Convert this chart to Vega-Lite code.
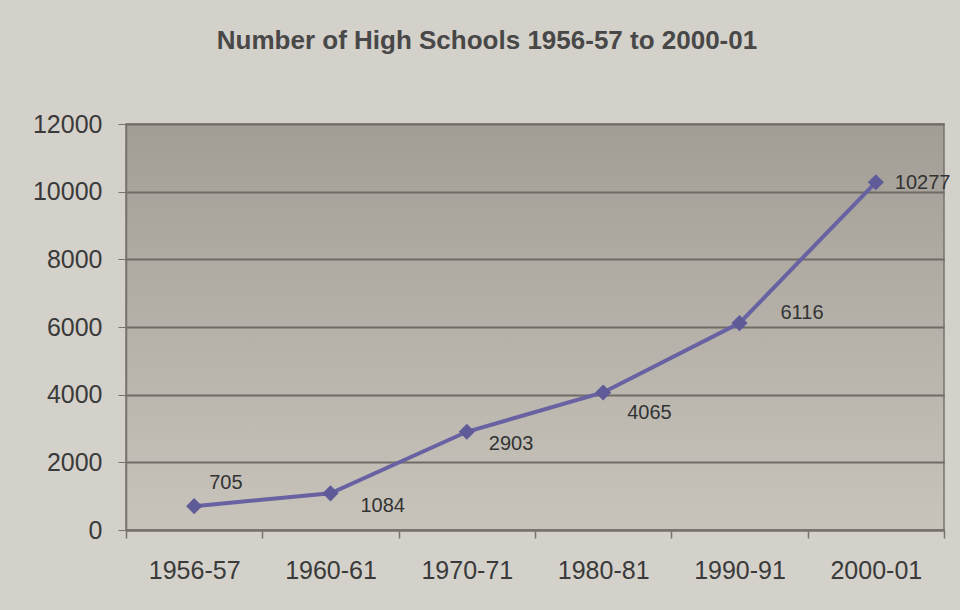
{
  "$schema": "https://vega.github.io/schema/vega-lite/v6.json",
  "width": 818,
  "height": 406,
  "autosize": {"type": "none"},
  "padding": {"left": 126, "top": 124, "right": 16, "bottom": 80},
  "background": "#d4d1ca",
  "title": {
    "text": "Number of High Schools 1956-57 to 2000-01",
    "font": "Liberation Sans",
    "fontSize": 26,
    "fontWeight": "bold",
    "color": "#484848",
    "anchor": "middle",
    "dx": -48,
    "offset": 58
  },
  "config": {
    "view": {
      "fill": {"gradient": "linear", "x1": 0, "y1": 0, "x2": 0, "y2": 1,
        "stops": [{"offset": 0, "color": "#a29e96"}, {"offset": 1, "color": "#c8c4bb"}]},
      "stroke": "#77736d",
      "strokeWidth": 1.5
    },
    "axis": {
      "labelFont": "Liberation Sans",
      "labelColor": "#3a3a3a",
      "domainColor": "#77736d",
      "tickColor": "#77736d",
      "title": null
    },
    "text": {"font": "Liberation Sans", "fontSize": 20, "color": "#333333", "align": "left", "baseline": "middle"}
  },
  "data": {
    "values": [
      {"year": "1956-57", "schools": 705},
      {"year": "1960-61", "schools": 1084},
      {"year": "1970-71", "schools": 2903},
      {"year": "1980-81", "schools": 4065},
      {"year": "1990-91", "schools": 6116},
      {"year": "2000-01", "schools": 10277}
    ]
  },
  "encoding": {
    "x": {
      "field": "year", "type": "ordinal", "sort": null,
      "scale": {"type": "band", "paddingInner": 0, "paddingOuter": 0},
      "axis": {"labelAngle": 0, "labelFontSize": 25, "labelPadding": 20, "tickBand": "extent", "tickSize": 8, "tickWidth": 1.5, "domainWidth": 2}
    },
    "y": {
      "field": "schools", "type": "quantitative",
      "scale": {"domain": [0, 12000]},
      "axis": {"values": [0, 2000, 4000, 6000, 8000, 10000, 12000], "format": "d", "labelFontSize": 25, "labelPadding": 16, "tickSize": 8, "gridColor": "#6f6b66", "gridWidth": 1.8, "grid": true, "domainWidth": 1.5}
    }
  },
  "layer": [
    {"mark": {"type": "line", "color": "#6862a2", "strokeWidth": 4}},
    {"mark": {"type": "point", "shape": "diamond", "filled": true, "size": 260, "color": "#5f5a98", "opacity": 1}},
    {
      "transform": [{"filter": "datum.schools == 705"}],
      "mark": {"type": "text", "dx": 15, "dy": -23},
      "encoding": {"text": {"field": "schools"}}
    },
    {
      "transform": [{"filter": "datum.schools == 1084"}],
      "mark": {"type": "text", "dx": 30, "dy": 13},
      "encoding": {"text": {"field": "schools"}}
    },
    {
      "transform": [{"filter": "datum.schools == 2903"}],
      "mark": {"type": "text", "dx": 22, "dy": 12},
      "encoding": {"text": {"field": "schools"}}
    },
    {
      "transform": [{"filter": "datum.schools == 4065"}],
      "mark": {"type": "text", "dx": 24, "dy": 21},
      "encoding": {"text": {"field": "schools"}}
    },
    {
      "transform": [{"filter": "datum.schools == 6116"}],
      "mark": {"type": "text", "dx": 41, "dy": -10},
      "encoding": {"text": {"field": "schools"}}
    },
    {
      "transform": [{"filter": "datum.schools == 10277"}],
      "mark": {"type": "text", "dx": 19, "dy": 1},
      "encoding": {"text": {"field": "schools"}}
    }
  ]
}
